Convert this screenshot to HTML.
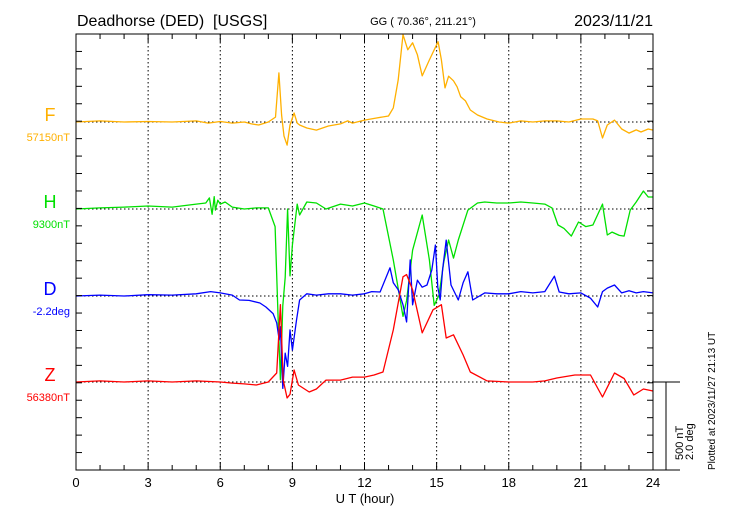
<!DOCTYPE html>
<html><head><meta charset="utf-8">
<style>
body{margin:0;background:#fff;}
svg{display:block;font-family:"Liberation Sans",sans-serif;}
</style></head>
<body>
<svg id="chart" width="730" height="520" viewBox="0 0 730 520">
  <text x="77" y="26" font-size="16" style="white-space:pre">Deadhorse (DED)  [USGS]</text>
  <text x="423" y="25" font-size="11" text-anchor="middle">GG ( 70.36°, 211.21°)</text>
  <text x="653" y="26" font-size="16" text-anchor="end">2023/11/21</text>
  <g id="grid"></g>
  <g id="series"></g>
  <rect x="76" y="34" width="577" height="436" fill="none" stroke="#000" stroke-width="1"/>
  <g id="ticks"></g>
  <text x="365" y="503" font-size="13" text-anchor="middle">U T (hour)</text>
  <line x1="653" y1="382" x2="680" y2="382" stroke="#000"/>
  <line x1="666" y1="382" x2="666" y2="470" stroke="#000"/>
  <line x1="653" y1="470" x2="680" y2="470" stroke="#000"/>
  <text transform="translate(683,460) rotate(-90)" font-size="11">500 nT</text>
  <text transform="translate(693,460) rotate(-90)" font-size="11">2.0 deg</text>
  <text transform="translate(715,470) rotate(-90)" font-size="10">Plotted at 2023/11/27 21:13 UT</text>
  <g id="labels"></g>
</svg>
<script>
// hours, component offsets in nT (D in degrees)
const hourTicks = [0,3,6,9,12,15,18,21,24];
const fT = [0,1,2,3,4,5,5.5,6,6.5,7,7.3,7.6,8.0,8.3,8.44,8.55,8.65,8.78,8.9,9.07,9.2,9.3,9.6,10,10.5,11,11.3,11.5,12,12.5,13.0,13.2,13.4,13.6,13.8,14.0,14.2,14.4,14.7,15.06,15.2,15.35,15.5,15.7,15.85,16.0,16.2,16.4,16.7,17.1,17.6,18,18.5,19,19.5,20,20.5,21,21.5,21.7,21.9,22.1,22.4,22.7,23.0,23.3,23.5,23.8,24];
const fV = [0,6,0,3,0,6,-6,3,-6,0,-11,-17,0,28,279,40,-80,-131,-17,51,-6,-17,-34,-46,-23,-11,6,-6,11,23,34,80,239,496,410,450,382,262,353,456,353,194,260,234,200,143,120,68,40,17,0,-6,6,0,6,6,0,17,17,6,-91,-17,11,-40,-63,-45,-57,-40,-46];
const hT = [0,1,2,3,4,5,5.4,5.55,5.66,5.75,5.8,5.9,6.0,6.2,6.5,7,7.5,8.0,8.28,8.4,8.5,8.6,8.7,8.8,8.9,9.0,9.2,9.3,9.6,10,10.4,11,11.5,12,12.4,12.77,13.2,13.6,13.75,14.0,14.4,14.7,14.9,15.1,15.3,15.5,15.7,15.9,16.3,16.7,17,17.5,18,18.5,19,19.5,19.8,20.05,20.3,20.6,20.9,21.2,21.5,21.9,22.1,22.3,22.6,22.8,23.05,23.3,23.6,23.8,24];
const hV = [0,6,11,17,11,28,34,63,-30,70,-6,50,28,40,11,0,6,6,-100,-600,-970,-550,-388,0,-380,-205,28,-34,40,34,0,28,17,34,17,0,-290,-610,-520,-234,-34,-290,-547,-490,-300,-176,-279,-176,-6,34,40,34,34,40,34,28,6,-91,-110,-154,-74,-100,-91,28,-148,-131,-150,-154,-6,40,102,68,68];
const dT = [0,1,2,3,4,5,5.6,6,6.5,6.8,7.2,7.65,7.9,8.2,8.35,8.45,8.5,8.6,8.7,8.8,8.9,9.0,9.17,9.3,9.6,10,10.5,11,11.5,12,12.3,12.65,13.06,13.2,13.4,13.6,13.75,13.9,14.0,14.2,14.4,14.6,14.8,14.95,15.05,15.15,15.25,15.4,15.6,15.9,16.1,16.3,16.5,17,17.5,18,18.5,19,19.5,19.9,20.1,20.5,21,21.4,21.7,21.9,22.1,22.4,22.7,23,23.3,23.6,24];
const dV = [0,0.02,0,0.03,0.02,0.05,0.1,0.07,0.02,-0.09,-0.1,-0.16,-0.25,-0.4,-0.61,-1.0,-0.7,-2.1,-1.3,-1.6,-0.77,-1.23,-0.55,-0.09,0.05,0.02,0.05,0.05,0.02,0.05,0.1,0.09,0.64,0.3,0.14,-0.2,-0.59,0.82,-0.2,0.36,0.2,0.25,0.59,1.16,0.2,-0.09,0.6,1.27,0.25,-0.09,0.3,0.55,-0.09,0.07,0.05,0.05,0.1,0.07,0.1,0.45,0.09,0.05,0.07,-0.05,-0.25,0.1,0.18,0.25,0.07,0.12,0.07,0.1,0.07];
const zT = [0,1,2,3,4,5,6,6.5,7,7.5,8.0,8.35,8.5,8.62,8.78,8.9,9.07,9.25,9.7,10.0,10.4,11,11.5,12,12.4,12.77,13.2,13.6,13.75,14.0,14.4,14.85,15.2,15.4,15.7,16.1,16.4,17.1,18,19,19.5,20,20.75,21.4,21.9,22.1,22.4,22.8,23.2,23.6,24];
const zV = [0,6,0,6,0,6,0,-6,-11,-17,0,51,439,11,-91,-70,68,-17,-57,-40,11,11,28,28,40,57,296,598,610,524,279,410,439,250,268,154,57,6,0,0,6,23,40,40,-85,-30,51,20,-74,-40,-51];

const X0=76,X1=653,Y0=34,Y1=470;
const xs = h => X0 + (X1-X0)*h/24;
const NT_PX = 88/500, DEG_PX = 88/2.0;
const NS="http://www.w3.org/2000/svg";
function mk(tag,attrs,parent){const e=document.createElementNS(NS,tag);for(const k in attrs)e.setAttribute(k,attrs[k]);parent.appendChild(e);return e;}
const grid=document.getElementById('grid'), ticks=document.getElementById('ticks'), ser=document.getElementById('series'), labs=document.getElementById('labels');

const comps=[
 {name:'F',val:'57150nT',base:122,col:'#ffb000',t:fT,v:fV,s:NT_PX},
 {name:'H',val:'9300nT',base:209,col:'#00e000',t:hT,v:hV,s:NT_PX},
 {name:'D',val:'-2.2deg',base:296,col:'#0000ff',t:dT,v:dV,s:DEG_PX},
 {name:'Z',val:'56380nT',base:382,col:'#ff0000',t:zT,v:zV,s:NT_PX}
];
comps.forEach(c=>{
  const g=mk('line',{x1:X0,y1:c.base,x2:X1,y2:c.base,stroke:'#000','stroke-dasharray':'1.5,2.5','stroke-width':1},grid);
  
  
});
hourTicks.forEach(h=>{
  if(h>0&&h<24){
    const l=mk('line',{x1:xs(h),y1:Y0,x2:xs(h),y2:Y1,stroke:'#000','stroke-dasharray':'1.5,2.5','stroke-width':1},grid);
    
    
  }
  const t=mk('text',{x:xs(h),y:487,'font-size':13,'text-anchor':'middle'},ticks);
  t.textContent=h;
  
  
});
for(let h=0;h<=24;h++){
  const len = h%3===0?8:5;
  mk('line',{x1:xs(h),y1:Y0,x2:xs(h),y2:Y0+len,stroke:'#000'},ticks);
  mk('line',{x1:xs(h),y1:Y1,x2:xs(h),y2:Y1-len,stroke:'#000'},ticks);
}
for(let k=1;k<25;k++){
  const y=Y0+k*436/25;
  mk('line',{x1:X0,y1:y,x2:X0+6,y2:y,stroke:'#000'},ticks);
  mk('line',{x1:X1,y1:y,x2:X1-6,y2:y,stroke:'#000'},ticks);
}
comps.forEach(c=>{
  const pts=c.t.map((h,i)=>xs(h).toFixed(1)+','+(c.base - c.v[i]*c.s).toFixed(1)).join(' ');
  const p=mk('polyline',{points:pts,fill:'none',stroke:c.col,'stroke-width':1.3,'stroke-linejoin':'round'},ser);
  
  
  const a=mk('text',{x:50,y:c.base-1,'font-size':18,fill:c.col,'text-anchor':'middle'},labs);
  a.textContent=c.name;
  
  
  const b=mk('text',{x:70,y:c.base+19,'font-size':11,fill:c.col,'text-anchor':'end'},labs);
  b.textContent=c.val;
  
  
});
</script>
</body></html>
